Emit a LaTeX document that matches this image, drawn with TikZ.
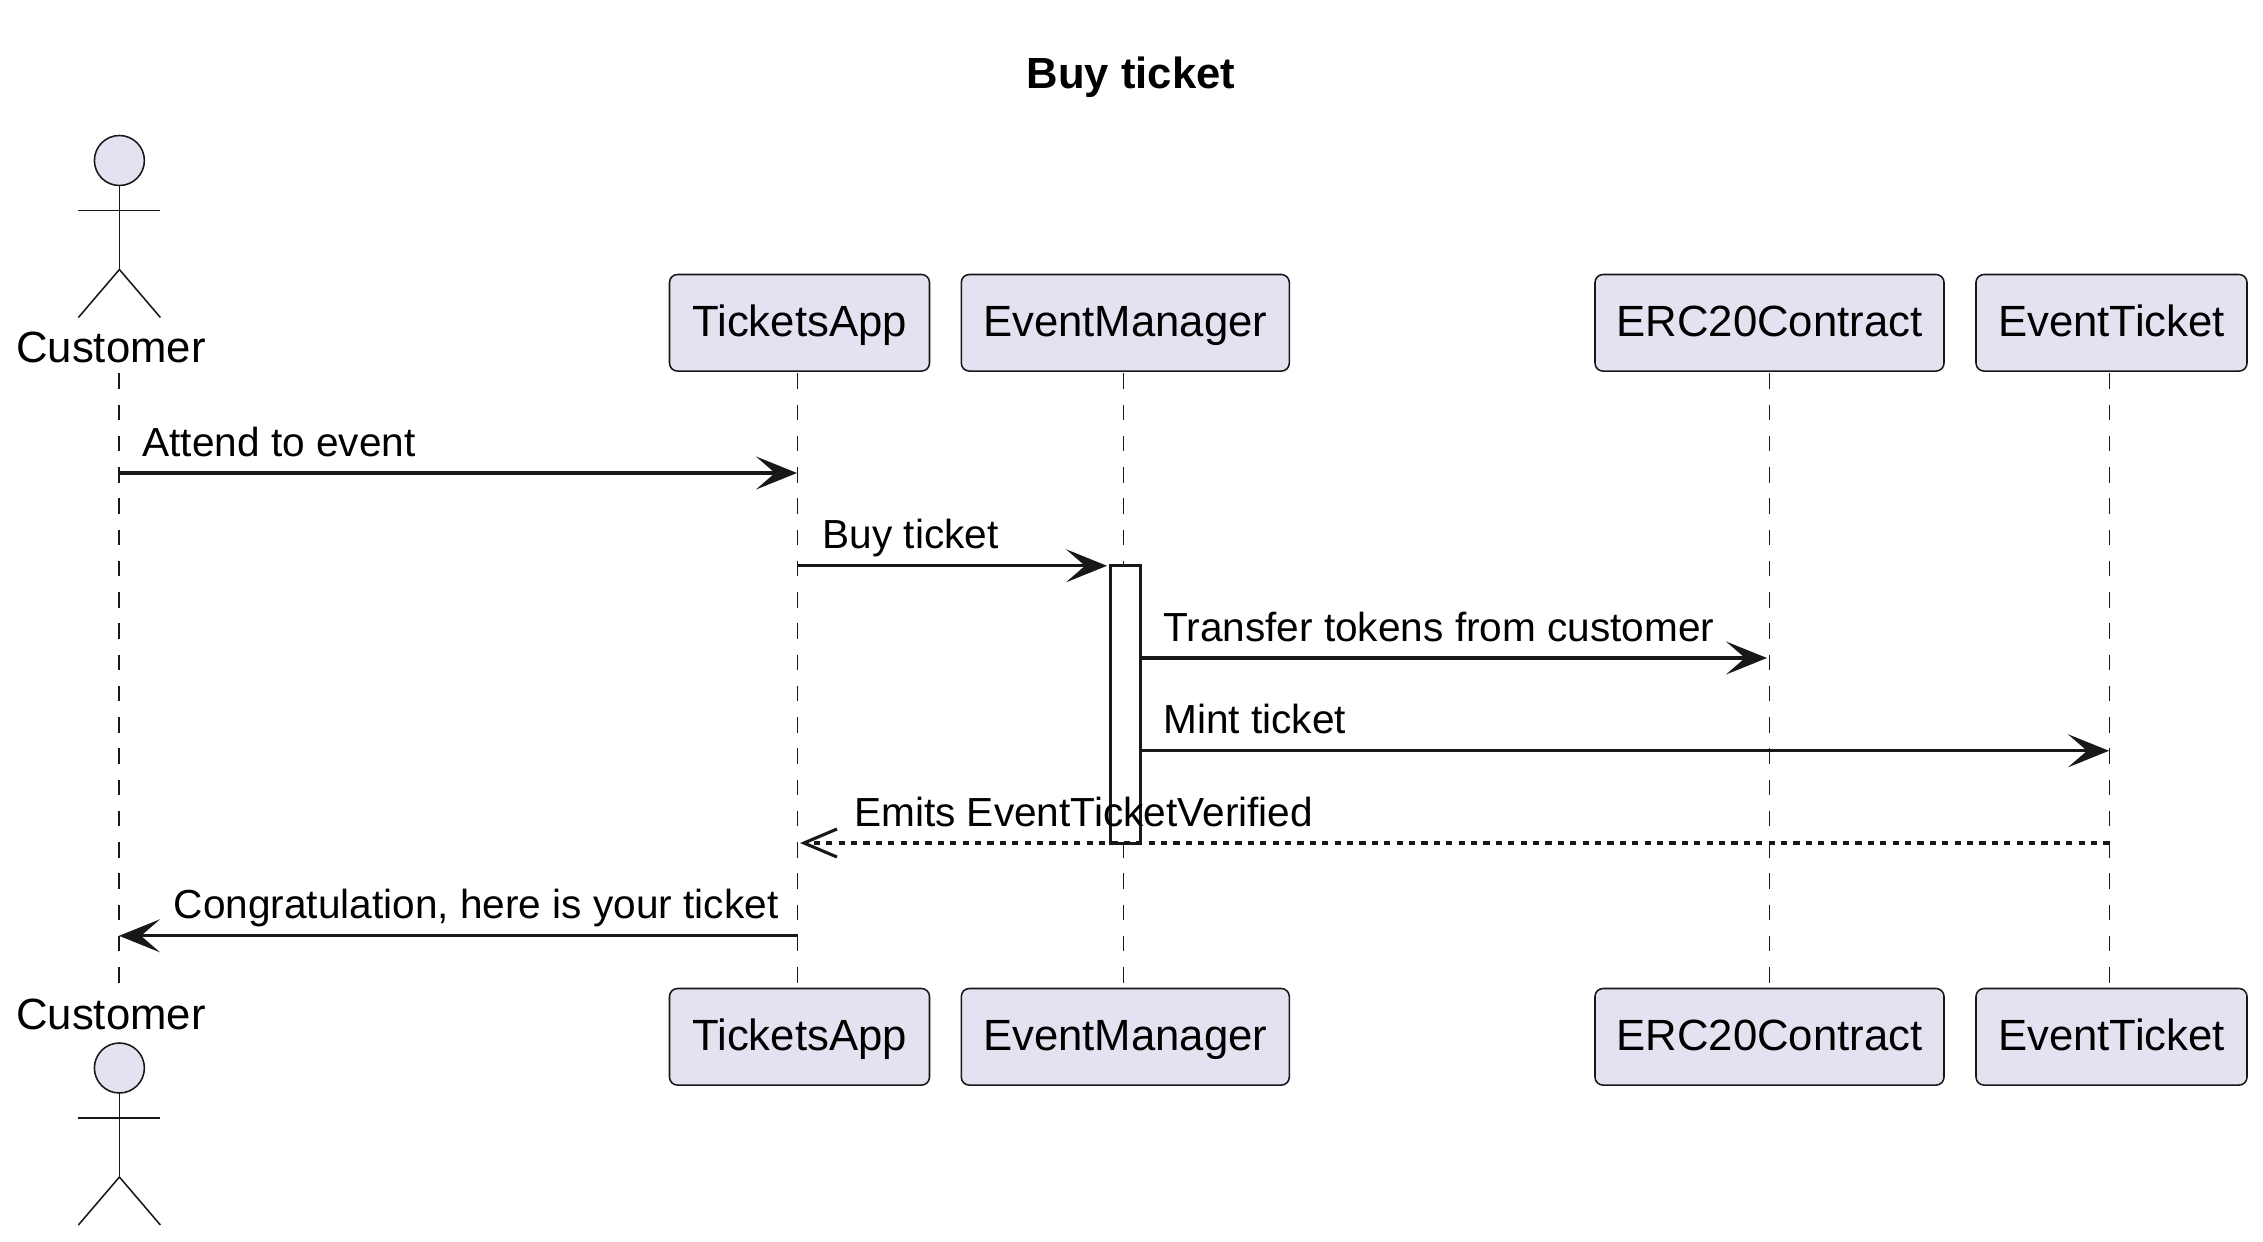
\documentclass[tikz,border=0pt]{standalone}
\usepackage{fontspec}
\setmainfont{Liberation Sans}
\usetikzlibrary{arrows.meta}
\definecolor{seqline}{HTML}{181818}
\definecolor{seqfill}{HTML}{E2E2F0}
\tikzstyle{seqbox}=[rectangle, rounded corners=8pt, draw=seqline, fill=seqfill, line width=1.55pt, inner sep=0pt, minimum height=96.6pt, text height=31.5pt, text depth=4pt, font=\fontsize{43.7pt}{52pt}\selectfont]
\tikzstyle{seqhead}=[circle, draw=seqline, fill=seqfill, line width=1.55pt, inner sep=0pt, minimum size=50pt]
\tikzstyle{seqlimb}=[draw=seqline, line width=1.55pt]
\tikzstyle{seqlife}=[draw=seqline, line width=1.55pt, dash pattern=on 15.6pt off 15.65pt]
\tikzstyle{seqcall}=[draw=seqline, line width=3.1pt, -{Stealth[length=41pt,width=33pt,inset=19pt]}]
\tikzstyle{seqback}=[draw=seqline, line width=3.1pt, dash pattern=on 6.2pt off 6.2pt, -{Straight Barb[length=33pt,width=28pt]}]
\tikzstyle{seqtext}=[inner sep=0pt, anchor=base west, text=black, font=\fontsize{40.6pt}{48pt}\selectfont]
\tikzstyle{seqname}=[inner sep=0pt, anchor=base, text=black, font=\fontsize{43.7pt}{52pt}\selectfont]
\tikzstyle{seqactive}=[rectangle, draw=seqline, fill=white, line width=3pt, inner sep=0pt, minimum width=30.5pt, minimum height=277.5pt]
\newcommand{\seqbox}[4]{
	\node[seqbox, minimum width=#3pt] (#1) at (#2) {#4};}
\newcommand{\seqactor}[3]{
	\node[seqhead] (#1) at (#2,#3) {};
	\coordinate (#1arml) at (#2-41,#3+50);
	\coordinate (#1armr) at (#2+41,#3+50);
	\coordinate (#1hip) at (#2,#3+109);
	\coordinate (#1legl) at (#2-41,#3+157);
	\coordinate (#1legr) at (#2+41,#3+157);
	\draw[seqlimb] (#1.south) -- (#1hip);
	\draw[seqlimb] (#1arml) -- (#1armr);
	\draw[seqlimb] (#1legl) -- (#1hip) -- (#1legr);}
\newcommand{\seqlife}[2]{
	\coordinate (#1top) at (#2,373.3);
	\coordinate (#1end) at (#2,983);
	\draw[seqlife] (#1top) -- (#1end);}

\begin{document}
\begin{tikzpicture}[x=1pt,y=-1pt]
\useasboundingbox (0,0) rectangle (2263,1242);
\node[inner sep=0pt, anchor=base, font=\fontsize{43.6pt}{52pt}\selectfont\bfseries] (title) at (1131,88) {Buy ticket};
% lifelines first, boxes go over them
\seqlife{cust}{118.8}
\seqlife{app}{797.5}
\seqlife{mgr}{1123.3}
\seqlife{erc}{1769.7}
\seqlife{tkt}{2109.5}
\seqactor{custa}{119.4}{160.5}
\seqactor{custb}{119.4}{1068}
\node[seqname] (custnamea) at (111,362.5) {Customer};
\node[seqname] (custnameb) at (111,1029.5) {Customer};
\seqbox{appa}{799.5,322.8}{260}{TicketsApp}
\seqbox{mgra}{1125.3,322.8}{328}{EventManager}
\seqbox{erca}{1769.5,322.8}{349}{ERC20Contract}
\seqbox{tkta}{2111.5,322.8}{271}{EventTicket}
\seqbox{appb}{799.5,1036.8}{260}{TicketsApp}
\seqbox{mgrb}{1125.3,1036.8}{328}{EventManager}
\seqbox{ercb}{1769.5,1036.8}{349}{ERC20Contract}
\seqbox{tktb}{2111.5,1036.8}{271}{EventTicket}
\node[seqactive] (active) at (1125.3,704.3) {};
% message ends
\coordinate (attendfrom) at (118.8,473);
\coordinate (attendto) at (797,473);
\coordinate (buyfrom) at (797.5,565.8);
\coordinate (buyto) at (1107,565.8);
\coordinate (transferfrom) at (1141,658);
\coordinate (transferto) at (1767,658);
\coordinate (mintfrom) at (1141,750.8);
\coordinate (mintto) at (2109,750.8);
\coordinate (emitsfrom) at (2109.5,843);
\coordinate (emitsto) at (800,843);
\coordinate (congratsfrom) at (797.5,935.8);
\coordinate (congratsto) at (119,935.8);
\path[seqcall] (attendfrom) -- (attendto);
\path[seqcall] (buyfrom) -- (buyto);
\path[seqcall] (transferfrom) -- (transferto);
\path[seqcall] (mintfrom) -- (mintto);
\path[seqback] (emitsfrom) -- (emitsto);
\path[seqcall] (congratsfrom) -- (congratsto);
\node[seqtext] (attend) at (142.4,456) {Attend to event};
\node[seqtext] (buy) at (822.5,548.5) {Buy ticket};
\node[seqtext] (transfer) at (1163,641) {Transfer tokens from customer};
\node[seqtext] (mint) at (1163,733.5) {Mint ticket};
\node[seqtext] (emits) at (854,826) {Emits EventTicketVerified};
\node[seqtext] (congrats) at (173.5,918.5) {Congratulation, here is your ticket};
\end{tikzpicture}
\end{document}
